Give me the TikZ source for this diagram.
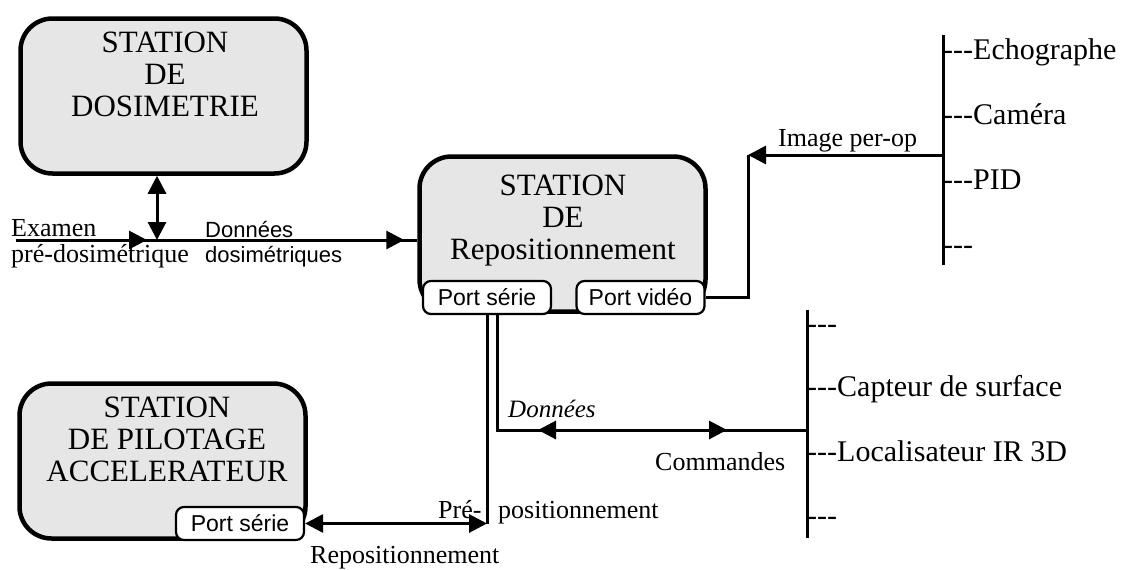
\documentclass[tikz,border=0pt]{standalone}
\usepackage{fontspec}
\setmainfont{Liberation Serif}
\setsansfont{Liberation Sans}
\usetikzlibrary{positioning,calc,arrows.meta}
\definecolor{BoxGray}{HTML}{E6E6E6}
\newcommand{\stfont}{\fontsize{31}{32}\selectfont}
\newcommand{\lblfont}{\fontsize{26}{28}\selectfont}
\newcommand{\devfont}{\fontsize{30}{32}\selectfont}
\newcommand{\portfont}{\sffamily\fontsize{23}{25}\selectfont}
\newcommand{\dashes}{-\kern0pt-\kern0pt-}

\begin{document}
\begin{tikzpicture}[x=1pt, y=-1pt,
  station/.style={draw, line width=4.5pt, rounded corners=32pt, fill=BoxGray,
                  minimum width=286pt, minimum height=155pt, inner sep=0pt},
  sttext/.style={anchor=north, align=center, inner sep=0pt, font=\stfont},
  port/.style={draw, line width=2.2pt, rounded corners=8pt, fill=white,
               minimum width=128pt, minimum height=33pt, inner sep=0pt, font=\portfont},
  lbl/.style={anchor=base west, inner sep=0pt, font=\lblfont},
  dev/.style={anchor=base west, inner sep=0pt, font=\devfont},
  ln/.style={line width=3pt},
  arr/.style={ln, -{Triangle[length=18pt,width=18pt]}},
  darr/.style={ln, {Triangle[length=18pt,width=18pt]}-{Triangle[length=18pt,width=18pt]}}
]
\useasboundingbox (0,0) rectangle (1135,570);

% stations
\node[station] (dosi) at (163.5,96) {};
\node[station] (repo) at (562.5,234) {};
\node[station] (pilo) at (162.5,461) {};
\node[sttext] (dosiT) at (165,31.5) {STATION\\DE\\DOSIMETRIE};
\node[sttext] (repoT) at (563,174.5) {STATION\\DE\\Repositionnement};
\node[sttext] (piloT) at (167,396.5) {STATION\\DE PILOTAGE\\ACCELERATEUR};

% ports
\node[port] (pser) at (487,297.5) {Port série};
\node[port] (pvid) at (640.5,297.5) {Port vidéo};
\node[port] (ppil) at (240,523.5) {Port série};

% image sources
\coordinate (bar1t) at (943,35);
\coordinate (bar1b) at (943,265);
\draw[ln] (bar1t) -- (bar1b);
\node[dev] (echo) at (943,59)  {\dashes Echographe};
\node[dev] (came) at (943,124) {\dashes Caméra};
\node[dev] (pid)  at (943,189) {\dashes PID};
\node[dev] (oth1) at (943,254) {\dashes};

% sensors
\coordinate (bar2t) at (807,310);
\coordinate (bar2b) at (807,538);
\draw[ln] (bar2t) -- (bar2b);
\node[dev] (oth2) at (807,333) {\dashes};
\node[dev] (capt) at (807,396) {\dashes Capteur de surface};
\node[dev] (loca) at (807,461) {\dashes Localisateur IR 3D};
\node[dev] (oth3) at (807,525) {\dashes};

% dosimetry input
\coordinate (exam) at (16,240);
\coordinate (jd) at (157,240);
\draw[ln] (exam) -- (exam -| repo.west);
\draw[arr] (exam) -- ($(jd)+(-10,0)$);
\draw[arr] (jd) -- ($(exam -| repo.west)+(-13,0)$);
\draw[darr] (jd |- dosi.south) -- (jd);
\node[lbl] (examL) at (11,236) {Examen};
\node[lbl] (predL) at (11,262) {pré-dosimétrique};
\node[lbl, font=\sffamily\fontsize{22}{24}\selectfont] (donL) at (205,237) {Données};
\node[lbl, font=\sffamily\fontsize{22}{24}\selectfont] (dosL) at (205,262) {dosimétriques};

% video
\coordinate (c1) at (748,155);
\draw[arr] (c1 -| bar1t) -- (c1);
\draw[ln] (c1) |- (pvid.east);
\node[lbl] (imgL) at (778,146) {Image per-op};

% serial links
\coordinate (c2) at (pser.south |- ppil.east);
\draw[ln] (pser.south) -- (c2);
\draw[darr] (ppil.east) -- (c2);
\coordinate (c3) at ($(pser.south)+(10,0)$);
\draw[ln] (c3) |- (bar2t |- 0,430);
\coordinate (dL) at (538,430);
\coordinate (dR) at (727,430);
\draw[darr] (dL) -- (dR);
\node[lbl, font=\itshape\fontsize{25}{27}\selectfont] (donI) at (508,417) {Données};
\node[lbl] (cmdL) at (655,470) {Commandes};
\node[lbl] (preL) at (438,518) {Pré-};
\node[lbl] (posL) at (498,518) {positionnement};
\node[lbl] (repL) at (310,563) {Repositionnement};
\end{tikzpicture}
\end{document}
